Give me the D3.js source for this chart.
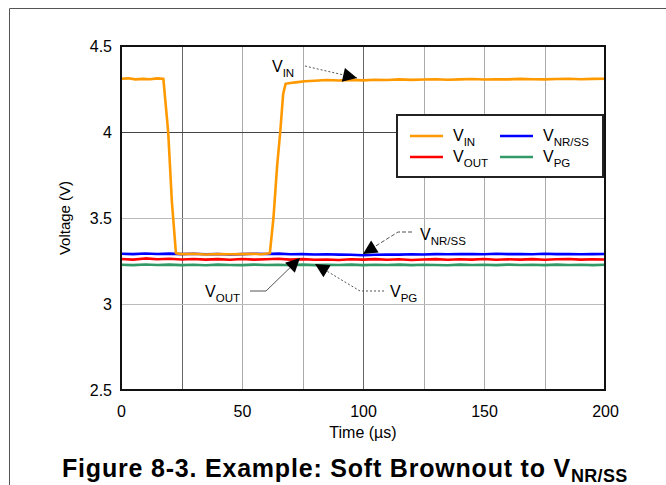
<!DOCTYPE html>
<html><head><meta charset="utf-8">
<script src="https://cdn.jsdelivr.net/npm/d3@7"></script>
<style>body{margin:0;background:#fff}svg{display:block}text{font-family:"Liberation Sans",Arial,sans-serif}</style>
</head><body><svg id="c" width="666" height="485"></svg>
<script>
// ---- data ----
const xTicks = [0, 50, 100, 150, 200];
const yTicks = [2.5, 3, 3.5, 4, 4.5];
const xGrid = [25, 50, 75, 100, 125, 150, 175];
const vinTime = [0,3,6,9,12,15,17.5,19.5,21,22.7,25,30,35,40,45,50,55,58,61.5,63,64.5,65.8,67,68,70,73,76,80,85,90,95,100,105,110,115,120,125,130,135,140,145,150,155,160,165,170,175,180,185,190,195,200];
const vinVals = [4.31,4.312,4.306,4.309,4.307,4.312,4.31,4.0,3.6,3.295,3.29,3.292,3.288,3.291,3.289,3.29,3.292,3.289,3.295,3.5,3.8,4.0,4.22,4.28,4.285,4.29,4.295,4.298,4.302,4.299,4.303,4.3,4.304,4.302,4.306,4.303,4.305,4.307,4.304,4.306,4.308,4.305,4.307,4.306,4.309,4.307,4.306,4.308,4.31,4.307,4.309,4.31];
const t = [0,5,10,15,20,25,30,35,40,45,50,55,60,65,70,75,80,85,90,95,100,105,110,115,120,125,130,135,140,145,150,155,160,165,170,175,180,185,190,195,200];
const vnrss = [3.292,3.29,3.294,3.291,3.293,3.29,3.292,3.289,3.291,3.288,3.29,3.292,3.291,3.293,3.289,3.29,3.288,3.289,3.287,3.286,3.283,3.286,3.288,3.287,3.289,3.288,3.29,3.289,3.291,3.29,3.289,3.292,3.29,3.291,3.289,3.292,3.29,3.291,3.289,3.29,3.291];
const vout = [3.262,3.258,3.265,3.26,3.263,3.259,3.262,3.258,3.261,3.257,3.262,3.258,3.26,3.263,3.258,3.261,3.257,3.259,3.256,3.26,3.258,3.261,3.257,3.26,3.256,3.259,3.261,3.257,3.26,3.258,3.262,3.257,3.26,3.258,3.261,3.257,3.26,3.262,3.258,3.26,3.259];
const vpg = [3.228,3.226,3.23,3.227,3.229,3.226,3.228,3.225,3.229,3.227,3.226,3.229,3.227,3.228,3.225,3.229,3.226,3.228,3.227,3.229,3.226,3.228,3.227,3.229,3.226,3.228,3.227,3.225,3.229,3.227,3.228,3.226,3.229,3.227,3.228,3.226,3.229,3.227,3.228,3.226,3.228];
const seriesNames = ["VIN","VNR/SS","VOUT","VPG"];
const colors = {VIN:"#FF9900", "VNR/SS":"#0000FF", VOUT:"#FF0000", VPG:"#339966"};

// ---- chart ----
const svg = d3.select("#c");
const M = {l:121, r:605, t:46, b:390};
const x = d3.scaleLinear().domain([0,200]).range([M.l, M.r]);
const y = d3.scaleLinear().domain([2.5,4.5]).range([M.b, M.t]);

// outer frame
svg.append("path").attr("d","M9.5,485 V8.5 H666").attr("fill","none").attr("stroke","#555").attr("stroke-width",1);

// grid
const gridDark = {25:true,100:true};
svg.append("g").selectAll("line").data(xGrid).join("line")
  .attr("x1",d=>Math.round(x(d))+0.5).attr("x2",d=>Math.round(x(d))+0.5)
  .attr("y1",M.t).attr("y2",M.b)
  .attr("stroke",d=>gridDark[d]?"#666":"#aaa").attr("stroke-width",1);
svg.append("g").selectAll("line").data([3,3.5,4]).join("line")
  .attr("y1",d=>Math.round(y(d))+0.5).attr("y2",d=>Math.round(y(d))+0.5)
  .attr("x1",M.l).attr("x2",M.r)
  .attr("stroke",d=>d===4?"#444":"#bbb").attr("stroke-width",1);

// axes
const xAxis = d3.axisBottom(x).tickValues(xTicks).tickSize(0).tickPadding(16).tickFormat(d3.format("d"));
const gx = svg.append("g").attr("transform",`translate(0,${M.b})`).call(xAxis);
const yAxis = d3.axisLeft(y).tickValues(yTicks).tickSize(0).tickPadding(9).tickFormat(d=>d3.format("")(d));
const gy = svg.append("g").attr("transform",`translate(${M.l},0)`).call(yAxis);
[gx,gy].forEach(g=>{g.select(".domain").remove();g.selectAll("text").attr("font-size",16).attr("fill","#000").attr("font-family","Liberation Sans, Arial, sans-serif");});

// series
const line = d3.line().x(d=>x(d[0])).y(d=>y(d[1]));
const data = {
  "VIN": vinTime.map((d,i)=>[d,vinVals[i]]),
  "VNR/SS": t.map((d,i)=>[d,vnrss[i]]),
  "VOUT": t.map((d,i)=>[d,vout[i]]),
  "VPG": t.map((d,i)=>[d,vpg[i]])
};
svg.append("clipPath").attr("id","pc").append("rect").attr("x",M.l).attr("y",M.t).attr("width",M.r-M.l).attr("height",M.b-M.t);
const gs = svg.append("g").attr("clip-path","url(#pc)");
["VPG","VOUT","VNR/SS","VIN"].forEach(k=>{
  gs.append("path").attr("d",line(data[k])).attr("fill","none").attr("stroke",colors[k]).attr("stroke-width",2.6).attr("stroke-linejoin","round");
});

// plot border
svg.append("rect").attr("x",M.l).attr("y",M.t).attr("width",M.r-M.l).attr("height",M.b-M.t).attr("fill","none").attr("stroke","#111").attr("stroke-width",2);

// axis titles
svg.append("text").attr("x",(M.l+M.r)/2).attr("y",438).attr("text-anchor","middle").attr("font-size",16).text("Time (µs)");
svg.append("text").attr("transform",`translate(70,${(M.t+M.b)/2}) rotate(-90)`).attr("text-anchor","middle").attr("font-size",15).text("Voltage (V)");

// subscript label helper
function sublabel(g, px, py, main, sub, size, anchor, weight){
  const tx = g.append("text").attr("x",px).attr("y",py).attr("font-size",size).attr("text-anchor",anchor||"start");
  if(weight) tx.attr("font-weight",weight);
  tx.append("tspan").text(main);
  tx.append("tspan").attr("dy",size*0.3).attr("font-size",size*0.72).text(sub);
  return tx;
}

// legend
const lg = svg.append("g");
lg.append("rect").attr("x",397).attr("y",115).attr("width",206).attr("height",62).attr("fill","#fff").attr("stroke","#222").attr("stroke-width",2);
const legItems = [
  {k:"VIN", sub:"IN", lx:410, ly:136},
  {k:"VNR/SS", sub:"NR/SS", lx:500, ly:136},
  {k:"VOUT", sub:"OUT", lx:410, ly:157},
  {k:"VPG", sub:"PG", lx:500, ly:157}
];
legItems.forEach(it=>{
  lg.append("line").attr("x1",it.lx).attr("x2",it.lx+33).attr("y1",it.ly).attr("y2",it.ly).attr("stroke",colors[it.k]).attr("stroke-width",2.5);
  sublabel(lg, it.lx+43, it.ly+5, "V", it.sub, 16);
});

// annotations
const defs = svg.append("defs");
defs.append("marker").attr("id","arr").attr("viewBox","0 0 10 10").attr("refX",10).attr("refY",5)
  .attr("markerWidth",18).attr("markerHeight",14).attr("markerUnits","userSpaceOnUse").attr("orient","auto")
  .append("path").attr("d","M0,0 L10,5 L0,10 Z").attr("fill","#000");
const ann = svg.append("g");
function leader(pts, dash){
  ann.append("path").attr("d",d3.line()(pts)).attr("fill","none").attr("stroke","#555").attr("stroke-width",1)
    .attr("stroke-dasharray",dash).attr("marker-end","url(#arr)");
}
// VIN
sublabel(ann, 272, 72, "V", "IN", 16);
leader([[305,66],[322,70],[357,78]], "2,2");
// VNR/SS
sublabel(ann, 420, 240, "V", "NR/SS", 16);
leader([[412,232],[398,232],[363,254]], "4,2");
// VOUT
sublabel(ann, 205, 297, "V", "OUT", 16);
leader([[250,291],[266,291],[300,258]], "none");
// VPG
sublabel(ann, 390, 297, "V", "PG", 16);
leader([[384,291],[360,291],[315,264]], "2,2");

// figure title
const ttl = svg.append("text").attr("x",62).attr("y",477).attr("text-anchor","start").attr("font-size",25).attr("font-weight","bold").attr("letter-spacing",0.8);
ttl.append("tspan").text("Figure 8-3. Example: Soft Brownout to V");
ttl.append("tspan").attr("dy",5).attr("font-size",18).attr("letter-spacing",0.3).text("NR/SS");
</script></body></html>
